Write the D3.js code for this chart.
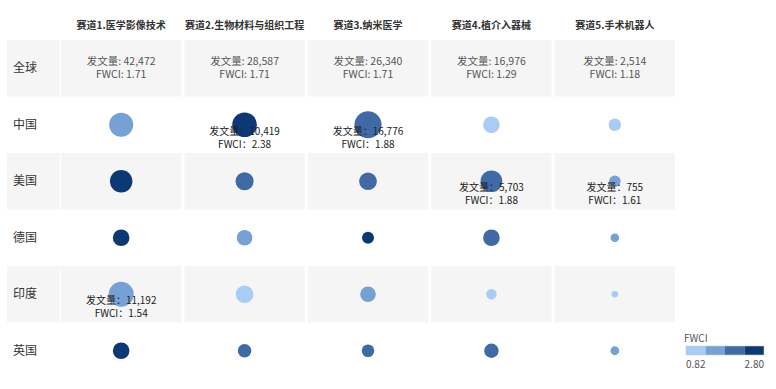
<!DOCTYPE html>
<html>
<head>
<meta charset="utf-8">
<title>赛道 发文量与FWCI</title>
<script src="https://d3js.org/d3.v7.min.js"></script>
<style>
  body { margin: 0; background: #fff; }
  text { font-family: "Noto Sans CJK SC", "Noto Sans", sans-serif; }
</style>
</head>
<body>
<script>
// tracks and regions
var tracks = ["赛道1.医学影像技术", "赛道2.生物材料与组织工程", "赛道3.纳米医学", "赛道4.植介入器械", "赛道5.手术机器人"];
var regions = ["全球", "中国", "美国", "德国", "印度", "英国"];

// global totals
var globalCount = [42472, 28587, 26340, 16976, 2514];
var globalFwci = [1.71, 1.71, 1.71, 1.29, 1.18];

// per country, one value per track
var chinaCount = [9100, 10419, 16776, 2080, 900];
var chinaFwci = [1.50, 2.38, 1.88, 1.00, 1.20];
var usCount = [6600, 2750, 2540, 5703, 755];
var usFwci = [2.50, 2.00, 1.95, 1.88, 1.61];
var germanyCount = [2080, 1700, 830, 2080, 420];
var germanyFwci = [2.60, 1.70, 2.80, 1.90, 1.50];
var indiaCount = [11192, 2540, 1700, 600, 280];
var indiaFwci = [1.54, 1.10, 1.60, 0.90, 0.82];
var ukCount = [2080, 1140, 935, 1340, 440];
var ukFwci = [2.40, 2.10, 2.05, 2.00, 1.70];

// cells whose value label is shown
var labelled = [["中国", 1], ["中国", 2], ["美国", 3], ["美国", 4], ["印度", 0]];

var legendTicks = [0.82, 2.80];
var colors = ["#a9ccf5", "#76a1d4", "#3f6aa6", "#0d3876"];

var countryRows = [
  { name: "中国", count: chinaCount, fwci: chinaFwci },
  { name: "美国", count: usCount, fwci: usFwci },
  { name: "德国", count: germanyCount, fwci: germanyFwci },
  { name: "印度", count: indiaCount, fwci: indiaFwci },
  { name: "英国", count: ukCount, fwci: ukFwci }
];

var cells = [];
countryRows.forEach(function(r) {
  tracks.forEach(function(t, i) {
    var show = labelled.some(function(l) { return l[0] === r.name && l[1] === i; });
    cells.push({ region: r.name, track: t, count: r.count[i], fwci: r.fwci[i], show: show });
  });
});

var w = 776, h = 389;

var svg = d3.select("body").append("svg")
  .attr("width", w)
  .attr("height", h);

var x = d3.scaleBand().domain(tracks).range([61, 675]).paddingInner(0.025);
var y = d3.scaleBand().domain(regions).range([40, 379]);
var r = d3.scaleLog().domain([100, 20000]).range([0.7, 14]);
var color = d3.scaleQuantize().domain(legendTicks).range(colors);
var fmt = d3.format(",");

// striped row backgrounds
var striped = regions.filter(function(d, i) { return i % 2 === 0; });
striped.forEach(function(reg) {
  svg.append("rect")
    .attr("x", 7).attr("y", y(reg))
    .attr("width", 53).attr("height", y.bandwidth())
    .attr("fill", "#f5f5f5");
  svg.selectAll(null)
    .data(tracks)
    .enter()
    .append("rect")
    .attr("x", function(d) { return x(d); })
    .attr("y", y(reg))
    .attr("width", x.bandwidth())
    .attr("height", y.bandwidth())
    .attr("fill", "#f5f5f5");
});

// column headers
svg.selectAll("text.head")
  .data(tracks)
  .enter()
  .append("text")
  .attr("class", "head")
  .attr("x", function(d) { return x(d) + x.bandwidth() / 2; })
  .attr("y", 29)
  .attr("text-anchor", "middle")
  .attr("font-size", "10px")
  .attr("font-weight", "bold")
  .attr("fill", "#333")
  .text(function(d) { return d; });

// row labels
svg.selectAll("text.row")
  .data(regions)
  .enter()
  .append("text")
  .attr("class", "row")
  .attr("x", 13)
  .attr("y", function(d) { return y(d) + y.bandwidth() / 2 + 4; })
  .attr("font-size", "12px")
  .attr("fill", "#333")
  .text(function(d) { return d; });

// global row: text only
var globalG = svg.selectAll("g.global")
  .data(tracks)
  .enter()
  .append("g")
  .attr("class", "global")
  .attr("transform", function(d) {
    return "translate(" + (x(d) + x.bandwidth() / 2) + "," + (y("全球") + y.bandwidth() / 2) + ")";
  });
globalG.append("text")
  .attr("y", -3)
  .attr("text-anchor", "middle")
  .attr("font-size", "10.5px")
  .attr("fill", "#555")
  .text(function(d, i) { return "发文量: " + fmt(globalCount[i]); });
globalG.append("text")
  .attr("y", 10)
  .attr("text-anchor", "middle")
  .attr("font-size", "10.5px")
  .attr("fill", "#555")
  .text(function(d, i) { return "FWCI: " + globalFwci[i].toFixed(2); });

// bubbles
svg.selectAll("circle.cell")
  .data(cells)
  .enter()
  .append("circle")
  .attr("class", "cell")
  .attr("cx", function(d) { return x(d.track) + x.bandwidth() / 2; })
  .attr("cy", function(d) { return y(d.region) + y.bandwidth() / 2; })
  .attr("r", function(d) { return r(d.count); })
  .attr("fill", function(d) { return color(d.fwci); });

// value labels
var lab = svg.selectAll("g.lab")
  .data(cells.filter(function(d) { return d.show; }))
  .enter()
  .append("g")
  .attr("class", "lab")
  .attr("transform", function(d) {
    return "translate(" + (x(d.track) + x.bandwidth() / 2) + "," + (y(d.region) + y.bandwidth() / 2) + ")";
  });
lab.append("text")
  .attr("y", 10)
  .attr("text-anchor", "middle")
  .attr("font-size", "10px")
  .attr("fill", "#222")
  .text(function(d) { return "发文量：" + fmt(d.count); });
lab.append("text")
  .attr("y", 23)
  .attr("text-anchor", "middle")
  .attr("font-size", "10px")
  .attr("fill", "#222")
  .text(function(d) { return "FWCI：" + d.fwci.toFixed(2); });

// legend
var lx = d3.scaleLinear().domain([0, colors.length]).range([686, 764]);
var legend = svg.append("g");
legend.append("text")
  .attr("x", 684).attr("y", 342)
  .attr("font-size", "10px")
  .attr("fill", "#555")
  .text("FWCI");
legend.selectAll("rect")
  .data(colors)
  .enter()
  .append("rect")
  .attr("x", function(d, i) { return lx(i); })
  .attr("y", 346)
  .attr("width", lx(1) - lx(0))
  .attr("height", 9)
  .attr("fill", function(d) { return d; });
legend.append("rect")
  .attr("x", 686).attr("y", 346)
  .attr("width", 78).attr("height", 9)
  .attr("fill", "none")
  .attr("stroke", "#ccc")
  .attr("stroke-width", 0.6);
legend.selectAll("text.tick")
  .data(legendTicks)
  .enter()
  .append("text")
  .attr("class", "tick")
  .attr("x", function(d, i) { return i === 0 ? 686 : 764; })
  .attr("y", 368)
  .attr("text-anchor", function(d, i) { return i === 0 ? "start" : "end"; })
  .attr("font-size", "10px")
  .attr("fill", "#555")
  .text(function(d) { return d.toFixed(2); });
</script>
</body>
</html>
